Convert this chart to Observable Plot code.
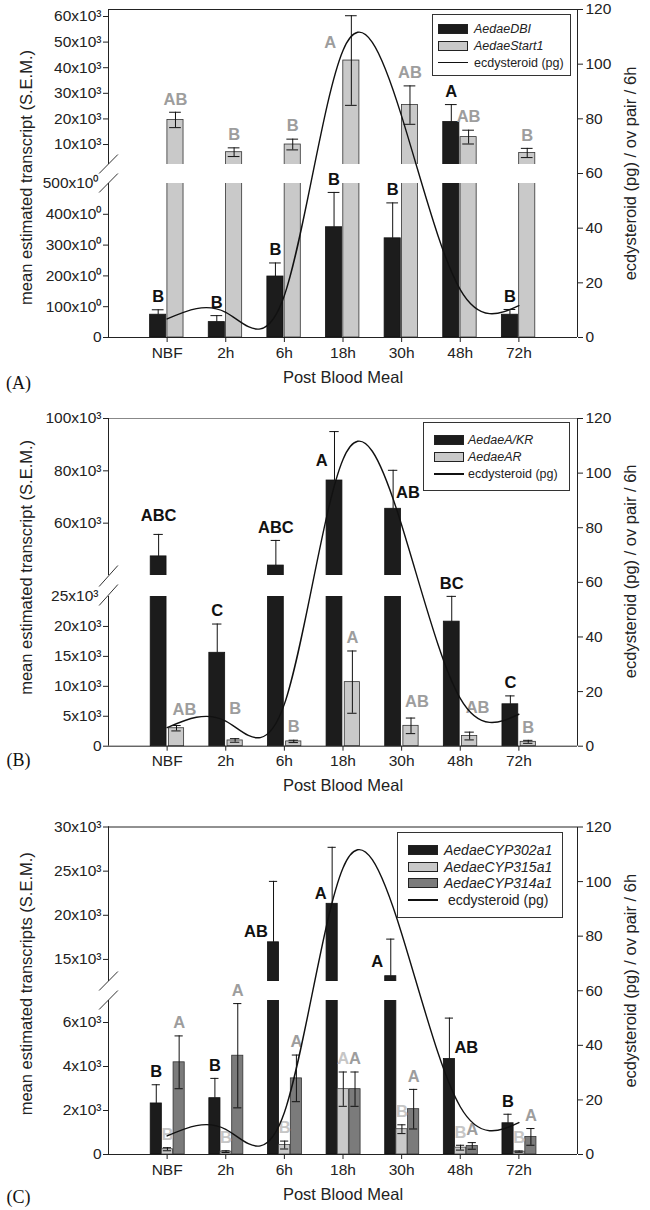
<!DOCTYPE html>
<html><head><meta charset="utf-8">
<script src="https://cdn.jsdelivr.net/npm/d3@7"></script>
<script src="https://cdn.jsdelivr.net/npm/@observablehq/plot@0.6"></script>
<style>
body{margin:0;background:#fff;}
#page{position:relative;width:650px;height:1210px;overflow:hidden;font-family:"Liberation Sans",Arial,sans-serif;color:#222;}
.panel{position:absolute;left:0;width:650px;}
.panel svg{position:absolute;left:0;top:0;}
.legend{position:absolute;border:1px solid #333;background:#fff;box-sizing:border-box;}
.legend .row{position:relative;height:17px;}
.legend .sw{position:absolute;top:50%;width:30px;box-sizing:border-box;}
.legend .tx{position:absolute;top:50%;transform:translateY(-52%);white-space:nowrap;color:#222;}
</style></head><body><div id="page"></div>
<script>
// ---------------- data ----------------
const categories = ["NBF", "2h", "6h", "18h", "30h", "48h", "72h"];
const ecdysteroid = [6.8, 9.2, 15.4, 105, 81, 17.5, 11.7];

// Panel A
const dbiMean = [74, 50, 198, 358, 322, 18800, 74];
const dbiSem = [16, 21, 44, 113, 115, 6800, 17];
const dbiLetters = ["B", "B", "B", "B", "B", "A", "B"];
const start1Mean = [19600, 7000, 10000, 42800, 25400, 12900, 6700];
const start1Sem = [3000, 1700, 2100, 17500, 7500, 2700, 1800];
const start1Letters = ["AB", "B", "B", "A", "AB", "AB", "B"];
const yTicksA = [0, 100, 200, 300, 400, 500, 10000, 20000, 30000, 40000, 50000, 60000];
const yTickLabelsA = ["0", "100x10⁰", "200x10⁰", "300x10⁰", "400x10⁰", "500x10⁰", "10x10³", "20x10³", "30x10³", "40x10³", "50x10³", "60x10³"];
const yBreakA = [500, 2200];

// Panel B
const akrMean = [47300, 15600, 43800, 76300, 65500, 20800, 7000];
const akrSem = [8400, 4800, 9600, 18700, 14700, 4300, 1400];
const akrLetters = ["ABC", "C", "ABC", "A", "AB", "BC", "C"];
const arMean = [3000, 960, 800, 10700, 3400, 1700, 730];
const arSem = [450, 300, 200, 5200, 1300, 650, 250];
const arLetters = ["AB", "B", "B", "A", "AB", "AB", "B"];
const yTicksB = [0, 5000, 10000, 15000, 20000, 25000, 60000, 80000, 100000];
const yTickLabelsB = ["0", "5x10³", "10x10³", "15x10³", "20x10³", "25x10³", "60x10³", "80x10³", "100x10³"];
const yBreakB = [25000, 40000];

// Panel C
const cyp302Mean = [2320, 2560, 16940, 21300, 13100, 4340, 1420];
const cyp302Sem = [850, 900, 6900, 6400, 4200, 1860, 410];
const cyp302Letters = ["B", "B", "AB", "A", "A", "AB", "B"];
const cyp315Mean = [240, 130, 430, 2970, 1150, 310, 130];
const cyp315Sem = [70, 40, 180, 780, 200, 110, 30];
const cyp315Letters = ["B", "B", "B", "A", "B", "B", "B"];
const cyp314Mean = [4190, 4490, 3460, 2970, 2060, 390, 800];
const cyp314Sem = [1200, 2370, 1060, 780, 900, 150, 380];
const cyp314Letters = ["A", "A", "A", "A", "A", "A", "A"];
const yTicksC = [0, 2000, 4000, 6000, 15000, 20000, 25000, 30000];
const yTickLabelsC = ["0", "2x10³", "4x10³", "6x10³", "15x10³", "20x10³", "25x10³", "30x10³"];
const yBreakC = [7000, 12500];

const rightTicks = [0, 20, 40, 60, 80, 100, 120];

// ---------------- layout ----------------
const FONT = "'Liberation Sans', Arial, Helvetica, sans-serif";
const W = 650;
const X = {type: "linear", domain: [-1, 7], range: [108, 577]};

function makePanel(cfg) {
  const page = document.getElementById("page");
  const div = document.createElement("div");
  div.className = "panel";
  div.style.top = cfg.top + "px";
  div.style.height = cfg.H + "px";
  page.appendChild(div);
  const margins = {marginLeft: 108, marginRight: 73, marginTop: cfg.marginTop, marginBottom: cfg.H - cfg.yBottom};
  const yMax = cfg.yDomain[cfg.yDomain.length - 1];
  const tickLabel = new Map(cfg.yTicks.map((t, k) => [t, cfg.yTickLabels[k]]));
  const brk = cfg.yBreak;

  const barMarks = [];
  const errMarks = [];
  const labelMarks = [];
  cfg.series.forEach((s, si) => {
    const [o0, o1] = cfg.offsets[si];
    const rows = s.mean.map((v, i) => ({i, v, e: s.sem[i], letter: s.letters[i], x1: i + o0, x2: i + o1, xc: i + (o0 + o1) / 2}));
    barMarks.push(Plot.rect(rows, {x1: "x1", x2: "x2", y1: 0, y2: "v", fill: s.fill, stroke: s.stroke, strokeWidth: 0.8}));
    errMarks.push(Plot.ruleX(rows, {x: "xc", y1: d => s.both ? d.v - d.e : d.v, y2: d => d.v + d.e, stroke: "#111", strokeWidth: 1}));
    errMarks.push(Plot.ruleY(rows, {y: d => d.v + d.e, x1: d => d.xc - cfg.capHalf, x2: d => d.xc + cfg.capHalf, stroke: "#111", strokeWidth: 1}));
    if (s.both) errMarks.push(Plot.ruleY(rows, {y: d => d.v - d.e, x1: d => d.xc - cfg.capHalf, x2: d => d.xc + cfg.capHalf, stroke: "#111", strokeWidth: 1}));
    rows.forEach(r => {
      const p = cfg.placements[si + "-" + r.i] || {};
      const side = p.side || "top";
      const common = {text: "letter", fill: s.labelColor, fontWeight: "bold", fontSize: 16.5, fontFamily: FONT, lineAnchor: "middle"};
      if (side === "top") {
        labelMarks.push(Plot.text([r], {...common, x: "xc", y: d => d.v + d.e, dx: p.dx || 0, dy: p.dy ?? -13, textAnchor: "middle"}));
      } else if (side === "left") {
        labelMarks.push(Plot.text([r], {...common, x: "x1", y: "v", dx: p.dx || 0, dy: p.dy ?? -12, textAnchor: "end"}));
      } else {
        labelMarks.push(Plot.text([r], {...common, x: "xc", y: "v", dx: p.dx ?? 4, dy: p.dy ?? -12, textAnchor: "start"}));
      }
    });
  });

  const barPlot = Plot.plot({
    width: W, height: cfg.H, ...margins,
    style: {fontFamily: FONT, fontSize: "15.5px", color: "#222", background: "transparent", overflow: "visible"},
    x: {...X, axis: null},
    y: {type: "linear", domain: cfg.yDomain, range: cfg.yRange, axis: null},
    marks: [
      ...barMarks,
      Plot.rect([brk], {x1: -0.985, x2: 6.99, y1: d => d[0], y2: d => d[1], fill: "white"}),
      ...errMarks,
      ...labelMarks,
      Plot.ruleX([[0, brk[0]], [brk[1], yMax]], {x: -1, y1: d => d[0], y2: d => d[1], stroke: "#222", strokeWidth: 1}),
      Plot.link([brk], {x1: -1.16, x2: -0.84, y1: d => d[0], y2: d => d[1], dy: -10, stroke: "#333", strokeWidth: 1}),
      Plot.link([brk], {x1: -1.16, x2: -0.84, y1: d => d[0], y2: d => d[1], dy: 9, stroke: "#333", strokeWidth: 1}),
      Plot.axisY(cfg.yTicks.filter(t => t !== brk[0]), {anchor: "left", tickSize: 5, tickPadding: 2, tickFormat: t => tickLabel.get(t), label: null, stroke: "#222"}),
      Plot.axisY(cfg.yTicks.filter(t => t === brk[0]), {anchor: "left", tickSize: 0, tickPadding: 10, tickFormat: t => tickLabel.get(t), label: null})
    ]
  });
  div.appendChild(barPlot);

  const lineRows = ecdysteroid.map((v, i) => ({i, v}));
  const overlay = Plot.plot({
    width: W, height: cfg.H, ...margins,
    style: {fontFamily: FONT, fontSize: "15.5px", color: "#222", background: "transparent", overflow: "visible"},
    x: {...X, axis: null},
    y: {type: "linear", domain: [0, 120], axis: null},
    marks: [
      Plot.ruleY([0], {x1: -1, x2: 7, stroke: "#222", strokeWidth: 1}),
      Plot.ruleY([120], {x1: -1, x2: 7, stroke: cfg.topColor, strokeWidth: 1}),
      Plot.ruleX([7], {y1: 0, y2: 120, stroke: "#222", strokeWidth: 1}),
      Plot.ruleX([-1], {y1: 100, y2: 120, stroke: "#222", strokeWidth: 1}),
      Plot.axisY(rightTicks, {anchor: "right", tickSize: 5, tickPadding: 3, label: null, stroke: "#222"}),
      Plot.axisX(d3.range(categories.length), {anchor: "bottom", tickSize: 5, tickPadding: 4, tickFormat: i => categories[i], label: null, stroke: "#222"}),
      Plot.line(lineRows, {x: "i", y: "v", curve: "natural", stroke: "#111", strokeWidth: 1.4}),
      Plot.text([cfg.yTitle], {frameAnchor: "left", dx: -82, dy: cfg.yTitleDy, rotate: -90, textAnchor: "middle", lineAnchor: "middle", fontSize: 16.5, fill: "#222"}),
      Plot.text(["ecdysteroid (pg) / ov pair / 6h"], {frameAnchor: "right", dx: 53, dy: cfg.rTitleDy, rotate: -90, textAnchor: "middle", lineAnchor: "middle", fontSize: 16.5, fill: "#222"}),
      Plot.text(["Post Blood Meal"], {frameAnchor: "bottom", dy: 40, textAnchor: "middle", lineAnchor: "middle", fontSize: 16.5, fill: "#222"}),
      Plot.text([cfg.panelLabel], {frameAnchor: "bottom-left", dx: -90, dy: cfg.panelLabelDy, textAnchor: "middle", lineAnchor: "middle", fontSize: 18, fontFamily: "'Liberation Serif', 'Times New Roman', serif", fill: "#111"})
    ]
  });
  div.appendChild(overlay);

  // legend
  const lg = cfg.legend;
  const box = document.createElement("div");
  box.className = "legend";
  Object.assign(box.style, {left: lg.left + "px", top: lg.top + "px", width: lg.width + "px", height: lg.height + "px", paddingTop: lg.padTop + "px", fontSize: lg.fontSize + "px"});
  lg.items.forEach(it => {
    const row = document.createElement("div");
    row.className = "row";
    row.style.height = lg.rowH + "px";
    const sw = document.createElement("div");
    sw.className = "sw";
    sw.style.left = lg.swLeft + "px";
    if (it.kind === "line") {
      Object.assign(sw.style, {height: "1.5px", background: "#111", marginTop: "-0.75px"});
    } else {
      Object.assign(sw.style, {height: "10px", background: it.fill, border: "1px solid #222", marginTop: "-5px"});
    }
    const tx = document.createElement("div");
    tx.className = "tx";
    tx.textContent = it.label;
    tx.style.left = (it.kind === "line" ? lg.lineTextLeft : lg.textLeft) + "px";
    tx.style.fontStyle = it.italic ? "italic" : "normal";
    row.appendChild(sw);
    row.appendChild(tx);
    box.appendChild(row);
  });
  div.appendChild(box);
}

const BLACK = "#1c1c1c", LIGHT = "#c9c9c9", DARK = "#7b7b7b";

makePanel({
  top: 0, H: 400, marginTop: 9, yBottom: 337,
  yDomain: [0, yBreakA[0], yBreakA[1], 60000], yRange: [337, 183, 164, 16],
  yTicks: yTicksA, yTickLabels: yTickLabelsA, yBreak: yBreakA,
  series: [
    {mean: dbiMean, sem: dbiSem, letters: dbiLetters, fill: BLACK, stroke: "#111", labelColor: "#111", both: false},
    {mean: start1Mean, sem: start1Sem, letters: start1Letters, fill: LIGHT, stroke: "#333", labelColor: "#9d9d9d", both: true}
  ],
  offsets: [[-0.29, -0.015], [0.005, 0.28]], capHalf: 0.1,
  placements: {"1-3": {side: "left", dx: -7, dy: -18}},
  topColor: "#222",
  yTitle: "mean estimated transcript (S.E.M.)", yTitleDy: 4, rTitleDy: 0,
  panelLabel: "(A)", panelLabelDy: 46,
  legend: {left: 432, top: 14, width: 139, height: 62, padTop: 5, rowH: 17, swLeft: 5, textLeft: 41, lineTextLeft: 41, fontSize: 12.5,
    items: [{label: "AedaeDBI", fill: BLACK, italic: true}, {label: "AedaeStart1", fill: LIGHT, italic: true}, {label: "ecdysteroid (pg)", kind: "line"}]}
});

makePanel({
  top: 395, H: 405, marginTop: 23, yBottom: 350.7,
  yDomain: [0, yBreakB[0], yBreakB[1], 100000], yRange: [350.7, 201, 180, 23],
  yTicks: yTicksB, yTickLabels: yTickLabelsB, yBreak: yBreakB,
  series: [
    {mean: akrMean, sem: akrSem, letters: akrLetters, fill: BLACK, stroke: "#111", labelColor: "#111", both: false},
    {mean: arMean, sem: arSem, letters: arLetters, fill: LIGHT, stroke: "#333", labelColor: "#9d9d9d", both: true}
  ],
  offsets: [[-0.28, -0.01], [0.03, 0.29]], capHalf: 0.08,
  placements: {"0-0": {dy: -19}, "0-3": {side: "left", dx: 1, dy: -20}, "0-4": {side: "right", dx: 3, dy: -16}, "1-0": {dx: 8, dy: -16}, "1-1": {dy: -30}, "1-4": {dx: 6, dy: -16}, "1-5": {dx: 8, dy: -24}},
  topColor: "#888",
  yTitle: "mean estimated transcript (S.E.M.)", yTitleDy: -15, rTitleDy: -11,
  panelLabel: "(B)", panelLabelDy: 14,
  legend: {left: 423, top: 27, width: 147, height: 69, padTop: 8.5, rowH: 17, swLeft: 10, textLeft: 44, lineTextLeft: 44, fontSize: 12.5,
    items: [{label: "AedaeA/KR", fill: BLACK, italic: true}, {label: "AedaeAR", fill: LIGHT, italic: true}, {label: "ecdysteroid (pg)", kind: "line"}]}
});

makePanel({
  top: 805, H: 405, marginTop: 21.5, yBottom: 349,
  yDomain: [0, yBreakC[0], yBreakC[1], 30000], yRange: [349, 195, 176, 21.5],
  yTicks: yTicksC, yTickLabels: yTickLabelsC, yBreak: yBreakC,
  series: [
    {mean: cyp302Mean, sem: cyp302Sem, letters: cyp302Letters, fill: BLACK, stroke: "#111", labelColor: "#111", both: false},
    {mean: cyp315Mean, sem: cyp315Sem, letters: cyp315Letters, fill: LIGHT, stroke: "#444", labelColor: "#c6c6c6", both: true},
    {mean: cyp314Mean, sem: cyp314Sem, letters: cyp314Letters, fill: DARK, stroke: "#333", labelColor: "#9d9d9d", both: true}
  ],
  offsets: [[-0.28, -0.09], [-0.09, 0.1], [0.11, 0.3]], capHalf: 0.07,
  placements: {"0-2": {side: "left", dy: -11}, "0-3": {side: "left", dy: -10}, "0-4": {side: "left", dx: -2, dy: -14}, "0-5": {side: "right", dx: 5, dy: -11}},
  topColor: "#222",
  yTitle: "mean estimated transcripts (S.E.M.)", yTitleDy: -7, rTitleDy: -10,
  panelLabel: "(C)", panelLabelDy: 43,
  legend: {left: 397, top: 27, width: 166, height: 86, padTop: 8.5, rowH: 16.7, swLeft: 10, textLeft: 46, lineTextLeft: 50, fontSize: 14,
    items: [{label: "AedaeCYP302a1", fill: BLACK, italic: true}, {label: "AedaeCYP315a1", fill: LIGHT, italic: true}, {label: "AedaeCYP314a1", fill: DARK, italic: true}, {label: "ecdysteroid (pg)", kind: "line"}]}
});
</script></body></html>
